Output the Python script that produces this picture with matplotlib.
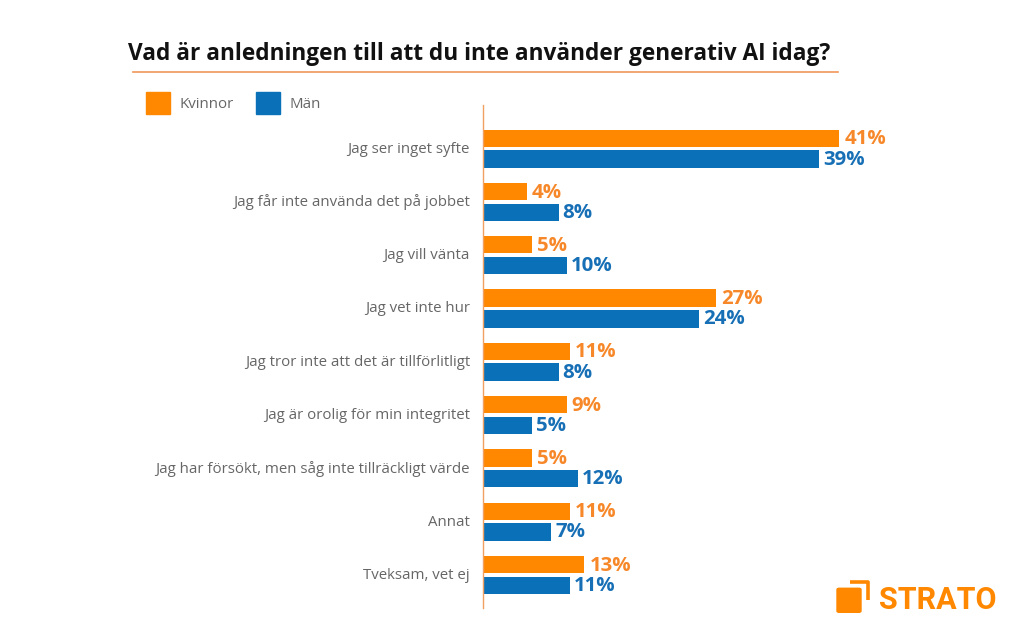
import matplotlib
matplotlib.use("Agg")
import matplotlib.pyplot as plt
from matplotlib.patches import Rectangle, FancyBboxPatch
from matplotlib.lines import Line2D
from matplotlib.transforms import ScaledTranslation

categories = [
    "Jag ser inget syfte",
    "Jag får inte använda det på jobbet",
    "Jag vill vänta",
    "Jag vet inte hur",
    "Jag tror inte att det är tillförlitligt",
    "Jag är orolig för min integritet",
    "Jag har försökt, men såg inte tillräckligt värde",
    "Annat",
    "Tveksam, vet ej",
]
# the printed percentages
kvinnor_labels = [41, 4, 5, 27, 11, 9, 5, 11, 13]
man_labels = [39, 8, 10, 24, 8, 5, 12, 7, 11]
# the bars in the picture do not follow the labels exactly, so lengths are read separately
kvinnor_bars = [41, 5.05, 5.7, 26.8, 10.05, 9.65, 5.7, 10.05, 11.7]
man_bars = [38.7, 8.75, 9.65, 24.9, 8.75, 5.7, 11, 7.9, 10.05]
series_names = ["Kvinnor", "Män"]
title = "Vad är anledningen till att du inte använder generativ AI idag?"

ORANGE = "#FF8800"
BLUE = "#0A71B9"
ORANGE_TEXT = "#F7882A"
BLUE_TEXT = "#176FB5"
GREY = "#666666"
W, H = 1024, 640

plt.rcParams["font.family"] = ["Open Sans", "DejaVu Sans"]

fig = plt.figure(figsize=(W / 100, H / 100), dpi=100)


def fx(px):
    return px / W


def fy(py):
    return 1 - py / H


# axes box in pixels of the picture
ax = fig.add_axes([fx(482.7), fy(607.7), fx(900 - 482.7), (607.7 - 105) / H])
ax.set_xlim(0, (900 - 482.7) / 8.69)
ax.set_ylim(8.617, -0.82)

for i, name in enumerate(categories):
    ax.barh(i - 0.195, kvinnor_bars[i], height=0.325, color=ORANGE)
    ax.barh(i + 0.195, man_bars[i], height=0.325, color=BLUE)
    ax.text(kvinnor_bars[i] + 0.6, i - 0.175, f"{kvinnor_labels[i]}%", color=ORANGE_TEXT,
            fontsize=14.7, fontweight="bold", va="center", ha="left")
    ax.text(man_bars[i] + 0.45, i + 0.205, f"{man_labels[i]}%", color=BLUE_TEXT,
            fontsize=14.7, fontweight="bold", va="center", ha="left")

ax.set_yticks(range(len(categories)))
ax.set_yticklabels(categories, fontsize=10.8, color=GREY)
ax.tick_params(axis="y", length=0, pad=9.2)
shift_up = ScaledTranslation(0, 1.5 / 100, fig.dpi_scale_trans)
for label in ax.get_yticklabels():
    label.set_transform(label.get_transform() + shift_up)
ax.set_xticks([])
for side in ["top", "right", "bottom"]:
    ax.spines[side].set_visible(False)
ax.spines["left"].set_color("#F0A060")
ax.spines["left"].set_linewidth(1)

# title and rule under it
fig.text(fx(128), fy(54), title, fontsize=16.33, fontweight="bold", color="#111111",
         va="center", ha="left")
fig.add_artist(Line2D([fx(133), fx(838)], [fy(71.5), fy(71.5)], color="#F0965A", linewidth=1.2))

# legend
for x0, color, name in [(146, ORANGE, series_names[0]), (256, BLUE, series_names[1])]:
    fig.add_artist(Rectangle((fx(x0), fy(114)), 24 / W, 22 / H, color=color,
                             transform=fig.transFigure))
    fig.text(fx(x0 + 33.5), fy(104), name, fontsize=10.9, color=GREY, va="center", ha="left")

# logo
fig.add_artist(FancyBboxPatch((fx(837), fy(612.3)), 24 / W, 24 / H,
                              boxstyle="round,pad=0,rounding_size=0.002", color=ORANGE,
                              transform=fig.transFigure))
fig.add_artist(Line2D([fx(849.5), fx(868), fx(868)], [fy(581.5), fy(581.5), fy(600)],
                      color=ORANGE, linewidth=2.6, solid_joinstyle="round",
                      solid_capstyle="butt"))
fig.text(fx(878.5), fy(600), "STRATO", fontsize=22, fontweight="bold", color=ORANGE,
         va="center", ha="left", family=["Roboto", "DejaVu Sans"])

fig.savefig("out.png", dpi=100)
plt.close(fig)
